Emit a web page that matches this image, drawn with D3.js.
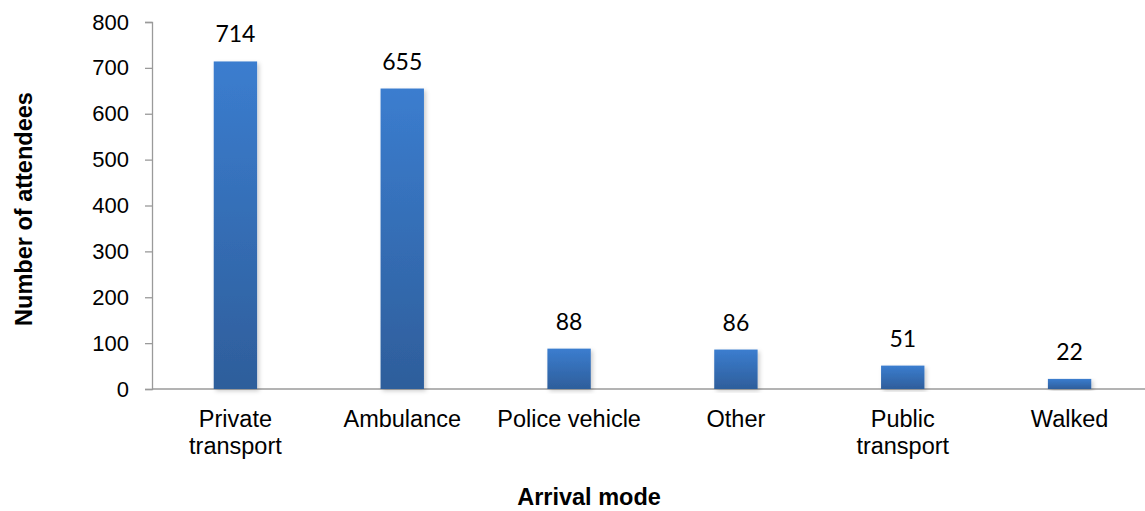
<!DOCTYPE html>
<html>
<head>
<meta charset="utf-8">
<script src="https://cdn.jsdelivr.net/npm/d3@7"></script>
<style>
  body { margin: 0; background: #fff; }
  svg { display: block; }
</style>
</head>
<body>
<div id="chart"></div>
<script>
// Data
const categories = [["Private", "transport"], ["Ambulance"], ["Police vehicle"], ["Other"], ["Public", "transport"], ["Walked"]];
const attendees = [714, 655, 88, 86, 51, 22];
const yTicks = [0, 100, 200, 300, 400, 500, 600, 700, 800];

const width = 1145, height = 511;
const margin = { top: 22, left: 152, bottom: 122 };
const plotBottom = height - margin.bottom;

const svg = d3.select("#chart")
    .append("svg")
    .attr("width", width)
    .attr("height", height);

const keys = categories.map(c => c.join(" "));

const x = d3.scaleBand()
    .domain(keys)
    .range([margin.left, margin.left + 1001])
    .paddingInner(0.74)
    .paddingOuter(0.37);

const y = d3.scaleLinear()
    .domain([0, 800])
    .range([plotBottom, margin.top]);

// gradient + shadow
const defs = svg.append("defs");
const grad = defs.append("linearGradient")
    .attr("id", "barGrad")
    .attr("x1", 0).attr("y1", 0).attr("x2", 0).attr("y2", 1);
grad.append("stop").attr("offset", "0%").attr("stop-color", "#3b7dcf");
grad.append("stop").attr("offset", "100%").attr("stop-color", "#2e5e9b");

const shadow = defs.append("filter").attr("id", "shadow")
    .attr("x", "-20%").attr("y", "-5%").attr("width", "150%").attr("height", "115%");
shadow.append("feDropShadow")
    .attr("dx", 2).attr("dy", 2).attr("stdDeviation", 2)
    .attr("flood-color", "#000").attr("flood-opacity", 0.2);

// Y axis
const yAxis = svg.append("g")
    .attr("transform", `translate(${margin.left},0)`)
    .call(d3.axisLeft(y).tickValues(yTicks).tickSize(7).tickPadding(16).tickSizeOuter(7));
yAxis.selectAll("path, line").attr("stroke", "#9a9a9a").attr("stroke-width", 1.3);
yAxis.selectAll("text")
    .attr("font-family", "Liberation Sans, Arial, sans-serif")
    .attr("font-size", 22)
    .attr("fill", "#000");

// X axis
svg.append("line")
    .attr("x1", margin.left).attr("x2", width)
    .attr("y1", plotBottom).attr("y2", plotBottom)
    .attr("stroke", "#9a9a9a").attr("stroke-width", 1.3);

// Bars
svg.selectAll("rect.bar")
    .data(attendees)
    .enter()
    .append("rect")
    .attr("class", "bar")
    .attr("x", (d, i) => x(keys[i]))
    .attr("y", d => y(d))
    .attr("width", x.bandwidth())
    .attr("height", d => plotBottom - y(d))
    .attr("fill", "url(#barGrad)")
    .attr("filter", "url(#shadow)");

// Value labels
svg.selectAll("text.val")
    .data(attendees)
    .enter()
    .append("text")
    .attr("class", "val")
    .attr("x", (d, i) => x(keys[i]) + x.bandwidth() / 2)
    .attr("y", d => y(d) - 19)
    .attr("text-anchor", "middle")
    .attr("font-family", "Lato, 'Open Sans', sans-serif")
    .attr("font-size", 23)
    .attr("fill", "#000")
    .text(d => d);

// Category labels
categories.forEach((lines, i) => {
    const t = svg.append("text")
        .attr("x", x(keys[i]) + x.bandwidth() / 2)
        .attr("y", plotBottom + 38)
        .attr("text-anchor", "middle")
        .attr("font-family", "Liberation Sans, Arial, sans-serif")
        .attr("font-size", 23.5)
        .attr("fill", "#000");
    lines.forEach((l, j) => {
        t.append("tspan")
            .attr("x", x(keys[i]) + x.bandwidth() / 2)
            .attr("dy", j === 0 ? 0 : 27)
            .text(l);
    });
});

// Axis titles
svg.append("text")
    .attr("x", 589)
    .attr("y", 505)
    .attr("text-anchor", "middle")
    .attr("font-family", "Liberation Sans, Arial, sans-serif")
    .attr("font-weight", "bold")
    .attr("font-size", 23.5)
    .text("Arrival mode");

svg.append("text")
    .attr("transform", "translate(32, 209) rotate(-90)")
    .attr("text-anchor", "middle")
    .attr("font-family", "Liberation Sans, Arial, sans-serif")
    .attr("font-weight", "bold")
    .attr("font-size", 23.5)
    .text("Number of attendees");
</script>
</body>
</html>
